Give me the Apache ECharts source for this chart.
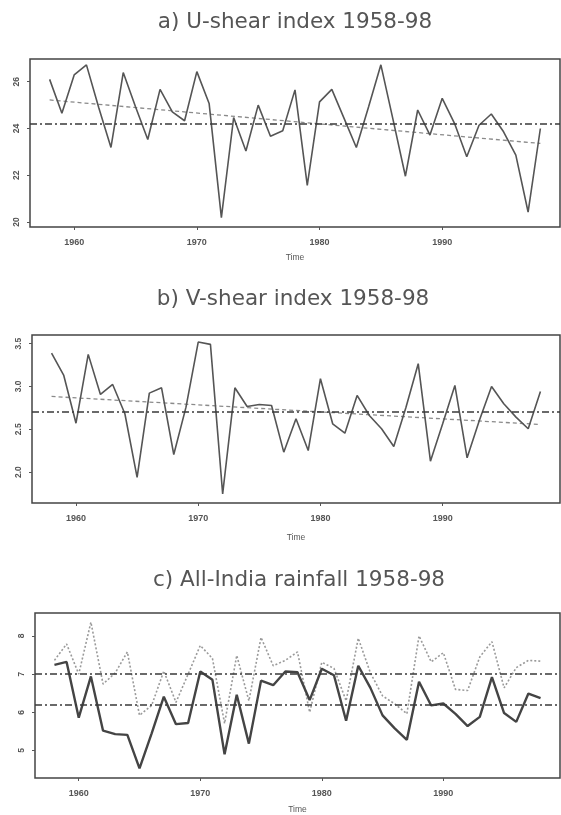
<!DOCTYPE html>
<html>
<head>
<meta charset="utf-8">
<script src="https://cdn.jsdelivr.net/npm/echarts@6/dist/echarts.min.js"></script>
<style>html,body{margin:0;padding:0;background:#fff}#c{width:561px;height:815px}</style>
</head>
<body>
<div id="c"></div>
<script>
const years = [1958,1959,1960,1961,1962,1963,1964,1965,1966,1967,1968,1969,1970,1971,1972,1973,1974,1975,1976,1977,1978,1979,1980,1981,1982,1983,1984,1985,1986,1987,1988,1989,1990,1991,1992,1993,1994,1995,1996,1997,1998];
const uShear = [26.10,24.65,26.29,26.72,24.9,23.19,26.39,24.93,23.53,25.67,24.71,24.33,26.43,25.07,20.19,24.47,23.04,25.0,23.67,23.9,25.65,21.57,25.14,25.67,24.43,23.19,24.93,26.72,24.36,21.96,24.79,23.72,25.29,24.22,22.79,24.14,24.62,23.86,22.86,20.43,24.0];
const vShear = [3.389,3.128,2.571,3.374,2.907,3.023,2.681,1.94,2.922,2.984,2.206,2.758,3.518,3.491,1.746,2.984,2.766,2.79,2.778,2.233,2.622,2.252,3.09,2.564,2.455,2.895,2.661,2.506,2.299,2.758,3.265,2.128,2.564,3.012,2.167,2.603,3.0,2.797,2.642,2.506,2.942];
const rainSolid = [7.24,7.32,5.86,6.94,5.52,5.43,5.41,4.53,5.45,6.41,5.69,5.72,7.07,6.85,4.90,6.46,5.18,6.83,6.71,7.07,7.05,6.32,7.14,6.97,5.78,7.22,6.64,5.92,5.58,5.28,6.80,6.18,6.23,5.96,5.64,5.88,6.92,5.98,5.75,6.49,6.37];
const rainDotted = [7.36,7.79,7.0,8.36,6.74,7.03,7.58,5.92,6.18,7.08,6.26,7.0,7.75,7.41,5.71,7.49,6.30,7.96,7.22,7.36,7.58,6.0,7.31,7.15,6.30,7.94,7.03,6.43,6.22,5.96,8.0,7.32,7.56,6.6,6.57,7.45,7.85,6.64,7.17,7.36,7.34];
const trendYears = [1958, 1998];
const uTrend = [25.22, 23.36];
const vTrend = [2.883, 2.556];
const uMean = 24.22;
const vMean = 2.71;
const rainMeans = [7.0, 6.2];
const xTicks = [1960, 1970, 1980, 1990];
const uTicks = [20, 22, 24, 26];
const vTicks = [2.0, 2.5, 3.0, 3.5];
const rainTicks = [5, 6, 7, 8];
const titles = ['a) U-shear index 1958-98', 'b) V-shear index 1958-98', 'c) All-India rainfall 1958-98'];

const pair = (xs, ys) => xs.map((x, i) => [x, ys[i]]);
const FONT = 'Liberation Sans';
const grids = [
  {left: 30, right: 1, top: 59, bottom: 588},
  {left: 32, right: 1, top: 335, bottom: 312},
  {left: 35, right: 1, top: 613, bottom: 32}
];
const yRanges = [[19.79, 26.97], [1.64, 3.6], [4.28, 8.6]];
const yTickSets = [uTicks, vTicks, rainTicks];
const nameGaps = [26, 30, 27];

const meanStyle = {color: '#3a3a3a', width: 1.5, type: [7, 3, 2, 3]};
const mkMean = (vals) => ({
  silent: true, symbol: 'none', label: {show: false},
  lineStyle: meanStyle,
  data: vals.map(v => ({yAxis: v}))
});

const option = {
  backgroundColor: '#fff',
  animation: false,
  graphic: titles.map((t, i) => ({
    type: 'text', x: [295, 293, 299][i], y: [22, 299, 580][i],
    style: {text: t, fill: '#555', font: '21.5px "DejaVu Sans"', textAlign: 'center', textVerticalAlign: 'middle'}
  })),
  grid: grids.map(g => Object.assign({show: true, borderColor: '#444', borderWidth: 1.5, backgroundColor: '#fff'}, g)),
  xAxis: grids.map((g, i) => ({
    type: 'value', gridIndex: i, min: 1956.4, max: 1999.6,
    name: 'Time', nameLocation: 'middle', nameGap: nameGaps[i],
    nameTextStyle: {fontFamily: FONT, fontSize: 8.5, color: '#555'},
    axisLine: {show: false},
    splitLine: {show: false},
    axisTick: {show: true, customValues: xTicks, length: 3, lineStyle: {color: '#555'}},
    axisLabel: {customValues: xTicks, fontFamily: FONT, fontSize: 9, color: '#555', fontWeight: 'bold', margin: 11,
      formatter: v => String(v)}
  })),
  yAxis: grids.map((g, i) => ({
    type: 'value', gridIndex: i, min: yRanges[i][0], max: yRanges[i][1],
    axisLine: {show: false},
    splitLine: {show: false},
    axisTick: {show: true, customValues: yTickSets[i], length: 3, lineStyle: {color: '#555'}},
    axisLabel: {customValues: yTickSets[i], rotate: 90, fontFamily: FONT, fontSize: 8.5, color: '#555', fontWeight: 'bold', margin: 9,
      formatter: v => i === 1 ? Number(v).toFixed(1) : String(v)}
  })),
  series: [
    {type: 'line', xAxisIndex: 0, yAxisIndex: 0, data: pair(years, uShear), showSymbol: false,
      lineStyle: {color: '#555', width: 1.6}, markLine: mkMean([uMean]), z: 3},
    {type: 'line', xAxisIndex: 0, yAxisIndex: 0, data: pair(trendYears, uTrend), showSymbol: false,
      lineStyle: {color: '#8a8a8a', width: 1.3, type: [4, 3]}, z: 2},
    {type: 'line', xAxisIndex: 1, yAxisIndex: 1, data: pair(years, vShear), showSymbol: false,
      lineStyle: {color: '#555', width: 1.6}, markLine: mkMean([vMean]), z: 3},
    {type: 'line', xAxisIndex: 1, yAxisIndex: 1, data: pair(trendYears, vTrend), showSymbol: false,
      lineStyle: {color: '#8a8a8a', width: 1.3, type: [4, 3]}, z: 2},
    {type: 'line', xAxisIndex: 2, yAxisIndex: 2, data: pair(years, rainDotted), showSymbol: false,
      lineStyle: {color: '#9a9a9a', width: 1.6, type: [2, 2]}, z: 2},
    {type: 'line', xAxisIndex: 2, yAxisIndex: 2, data: pair(years, rainSolid), showSymbol: false,
      lineStyle: {color: '#444', width: 2.4}, markLine: mkMean(rainMeans), z: 3}
  ]
};
const chart = echarts.init(document.getElementById('c'), null, {renderer: 'canvas'});
chart.setOption(option);
</script>
</body>
</html>
